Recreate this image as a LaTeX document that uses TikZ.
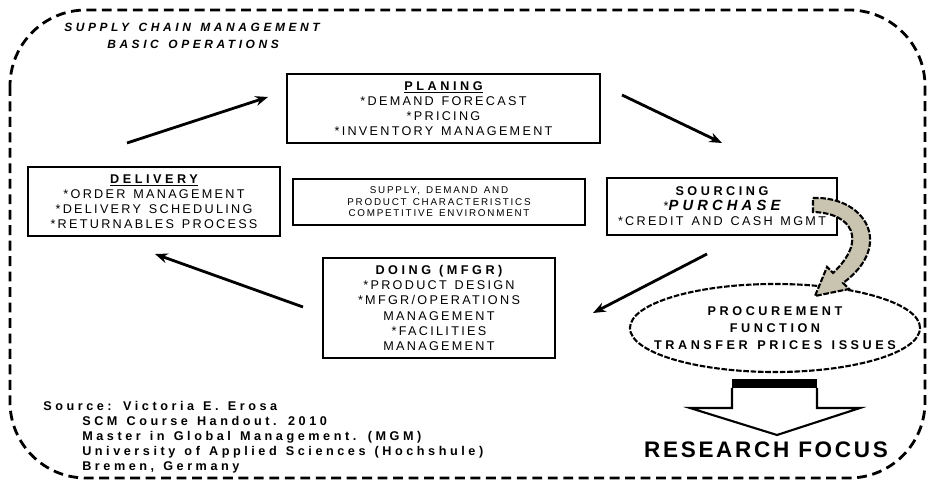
\documentclass[tikz,border=0pt]{standalone}
\usepackage{fontspec}
\setmainfont{Liberation Sans}
\usetikzlibrary{arrows.meta,shapes.geometric}

\definecolor{khaki}{RGB}{200,196,176}
\newcommand{\boxtxt}{\fontsize{9}{10.7}\selectfont\addfontfeature{LetterSpace=18}\spaceskip=0.62em}
\newcommand{\headtxt}{\bfseries\addfontfeature{LetterSpace=28}}
\newcommand{\envtxt}{\fontsize{7}{8.2}\selectfont\addfontfeature{LetterSpace=18}\spaceskip=0.62em}
\newcommand{\titletxt}{\fontsize{8.5}{12}\selectfont\bfseries\itshape\addfontfeature{LetterSpace=30}\spaceskip=0.8em}
\newcommand{\srctxt}{\fontsize{9}{10.7}\selectfont\bfseries\addfontfeature{LetterSpace=28}\spaceskip=0.72em}
\newcommand{\proctxt}{\fontsize{9}{12}\selectfont\bfseries\addfontfeature{LetterSpace=28}\spaceskip=0.75em}

\begin{document}
\begin{tikzpicture}[x=0.025cm,y=-0.025cm,
	opbox/.style={draw,line width=2pt,align=center,inner sep=0pt,font=\boxtxt},
	flow/.style={line width=2pt,-{Stealth[length=9pt,width=7pt]}},
	rough/.style={line width=1.5pt,dash pattern=on 4pt off 1.2pt}]
	\useasboundingbox (0,0) rectangle (928,484);
	
	%draws the dashed outline
	\draw[line width=2pt,dash pattern=on 7pt off 4pt,rounded corners=1.9cm] (10,10) rectangle (925,478);
	\node[anchor=west,inner sep=0pt,align=left,font=\titletxt] (title) at (64,36)
		{SUPPLY CHAIN MANAGEMENT\\\hspace*{1.075cm}BASIC OPERATIONS};
	
	%the four operations
	\node[opbox,minimum width=7.825cm,minimum height=1.725cm] (plan) at (443.5,108.5)
		{\underline{\headtxt PLANING}\\{}*DEMAND FORECAST\\{}*PRICING\\{}*INVENTORY MANAGEMENT};
	\node[opbox,minimum width=6.3cm,minimum height=1.725cm] (dlv) at (154,201.5)
		{\underline{\headtxt DELIVERY}\\{}*ORDER MANAGEMENT\\{}*DELIVERY SCHEDULING\\{}*RETURNABLES PROCESS};
	\node[opbox,minimum width=5.75cm,minimum height=1.425cm] (src) at (722,206.5)
		{{\headtxt SOURCING}\\{}*{\fontsize{10.5}{10.7}\selectfont\headtxt\itshape PURCHASE}\\{}*CREDIT AND CASH MGMT};
	\node[opbox,minimum width=5.8cm,minimum height=2.5cm] (doing) at (439,308)
		{{\headtxt DOING (MFGR)}\\{}*PRODUCT DESIGN\\{}*MFGR/OPERATIONS\\MANAGEMENT\\{}*FACILITIES\\MANAGEMENT};
	
	%the box in the middle
	\node[opbox,line width=1.4pt,font=\envtxt,minimum width=7.3cm,minimum height=1.15cm] (env) at (439,202)
		{SUPPLY, DEMAND AND\\PRODUCT CHARACTERISTICS\\COMPETITIVE ENVIRONMENT};
	
	%the cycle arrows
	\coordinate (a1s) at (127,143);
	\coordinate (a1e) at (268,97);
	\coordinate (a2s) at (622,95);
	\coordinate (a2e) at (722,143);
	\coordinate (a3s) at (707,254);
	\coordinate (a3e) at (593,313);
	\coordinate (a4s) at (303,307);
	\coordinate (a4e) at (155,254);
	\draw[flow] (a1s) -- (a1e);
	\draw[flow] (a2s) -- (a2e);
	\draw[flow] (a3s) -- (a3e);
	\draw[flow] (a4s) -- (a4e);
	
	%procurement function
	\node[ellipse,draw,rough,minimum width=7.25cm,minimum height=2.2cm] (proc) at (775,328) {};
	\node[align=center,inner sep=0pt,font=\proctxt] (proclbl) at (proc.center)
		{PROCUREMENT\\FUNCTION\\TRANSFER PRICES ISSUES};
	
	%curved arrow from purchase
	\draw[rough,fill=khaki] (813,198) .. controls (865,196) and (895,245) .. (843,283)
		-- (849,289) -- (815,296) -- (827,267) -- (833,273)
		.. controls (868,240) and (852,213) .. (813,212) -- cycle;
	
	%research focus block arrow
	\fill (732,379) rectangle (817,388);
	\draw[line width=1.5pt,line join=miter] (732,388) -- (732,408) -- (690,408) -- (777,435)
		-- (860,408) -- (817,408) -- (817,388);
	\node[font=\fontsize{16}{18}\selectfont\bfseries\addfontfeature{LetterSpace=12}] (focus) at (766,450) {RESEARCH FOCUS};
	
	%source
	\node[anchor=north west,inner sep=0pt,align=left,font=\srctxt] (source) at (43,401)
		{Source: Victoria E. Erosa\\
		\hspace*{0.975cm}SCM Course Handout. 2010\\
		\hspace*{0.975cm}Master in Global Management. (MGM)\\
		\hspace*{0.975cm}University of Applied Sciences (Hochshule)\\
		\hspace*{0.975cm}Bremen, Germany};
\end{tikzpicture}
\end{document}
